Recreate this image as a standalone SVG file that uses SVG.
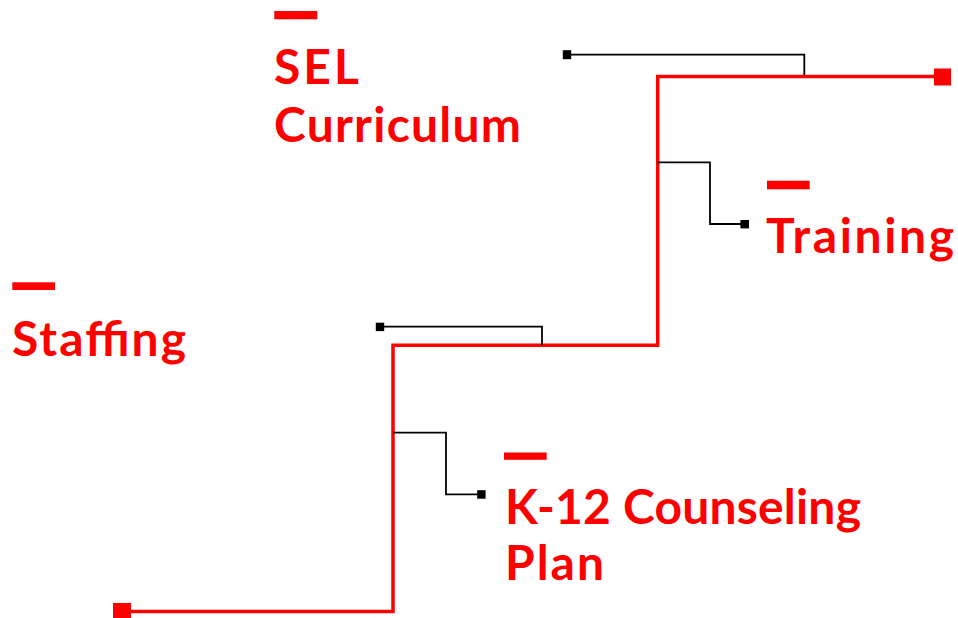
<svg xmlns="http://www.w3.org/2000/svg" width="958" height="618" viewBox="0 0 958 618">
<style>
.lbl{font-family:"Lato","Noto Sans","Liberation Sans",sans-serif;font-weight:700;font-size:48px;fill:#ff0000}
.bar{fill:#ff0000}
.main{fill:none;stroke:#ff0000;stroke-width:3.5;stroke-linejoin:miter}
.stub{fill:none;stroke:#000;stroke-width:1.8}
.dot{fill:#000}
.end{fill:#ff0000}
</style>
<rect width="958" height="618" fill="#fff"/>
<g id="connectors">
<path class="main" d="M122,611.5 H393 V345.3 H657.7 V76.5 H942"/>
<rect class="end" x="113" y="603" width="18" height="17"/>
<rect class="end" x="934" y="68.5" width="17" height="17"/>
<path class="stub" d="M567,54.7 H804.3 V75"/>
<rect class="dot" x="562.8" y="50.2" width="8.4" height="9"/>
<path class="stub" d="M657.7,162.3 H710 V224 H745"/>
<rect class="dot" x="740.4" y="220" width="8.6" height="8.4"/>
<path class="stub" d="M380,326.7 H542 V345"/>
<rect class="dot" x="375.8" y="322.7" width="8.4" height="8.4"/>
<path class="stub" d="M393,432.7 H446 V494.4 H481"/>
<rect class="dot" x="477.2" y="490.2" width="8.4" height="8.5"/>
</g>
<g id="node-sel">
<rect class="bar" x="274.3" y="11" width="43" height="8.3"/>
<text class="lbl" x="274" y="84" letter-spacing="3">SEL</text>
<text class="lbl" x="274" y="141.7" textLength="247" lengthAdjust="spacing">Curriculum</text>
</g>
<g id="node-training">
<rect class="bar" x="767" y="180.7" width="42.7" height="8.6"/>
<text class="lbl" x="766" y="252.7" textLength="188" lengthAdjust="spacing">Training</text>
</g>
<g id="node-staffing">
<rect class="bar" x="12.3" y="282.3" width="42.7" height="7.7"/>
<text class="lbl" x="12" y="356" textLength="174" lengthAdjust="spacing">Staffing</text>
</g>
<g id="node-k12">
<rect class="bar" x="504" y="452.5" width="42.7" height="7.3"/>
<text class="lbl" x="505" y="524" textLength="356" lengthAdjust="spacing">K-12 Counseling</text>
<text class="lbl" x="505" y="580" textLength="99" lengthAdjust="spacing">Plan</text>
</g>
</svg>
